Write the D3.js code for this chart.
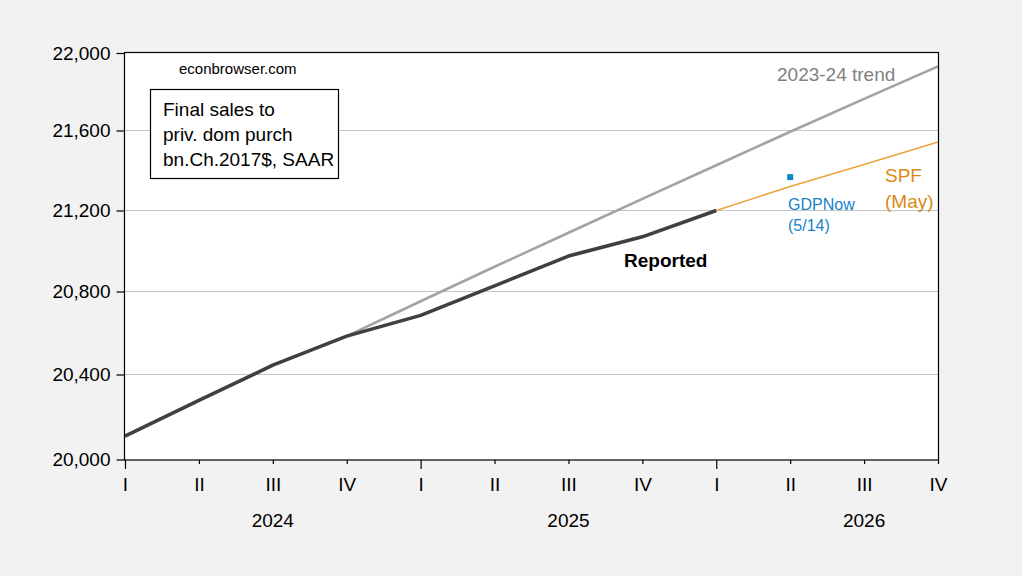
<!DOCTYPE html>
<html>
<head>
<meta charset="utf-8">
<style>
body { margin: 0; background: #f2f2f2; }
text { font-family: "Liberation Sans", Arial, sans-serif; }
</style>
</head>
<body>
<svg id="chart" width="1022" height="576"></svg>
<script src="https://d3js.org/d3.v7.min.js"></script>
<script>
// data (bn. Ch.2017$, SAAR)
var quarters = ["I", "II", "III", "IV", "I", "II", "III", "IV", "I", "II", "III", "IV"];
var years = ["2024", "2025", "2026"];
var reported = [20110, 20278, 20445, 20585, 20685, 20828, 20975, 21070, 21200];
// 2023-24 trend, from 2024Q4 on (index 3)
var trendStart = 3;
var trend = [20585, 20753, 20922, 21090, 21258, 21426, 21594, 21763, 21931];
// SPF (May), from 2026Q1 (index 8)
var spfStart = 8;
var spf = [21200, 21320, 21430, 21542];
var gdpnowIndex = 9;
var gdpnow = 21367;
var yTicks = [20000, 20400, 20800, 21200, 21600, 22000];

var svg = d3.select("#chart");
var plot = {left: 125, right: 938, top: 53, bottom: 459.5};

var x = d3.scaleLinear().domain([0, quarters.length - 1]).range([plot.left, plot.right]);
// tick spacing in the picture is not quite even, so map each gridline
var y = d3.scaleLinear().domain(yTicks).range([459.5, 374.5, 291.5, 210.5, 130.5, 53]);

svg.append("rect")
    .attr("x", plot.left).attr("y", plot.top)
    .attr("width", plot.right - plot.left).attr("height", plot.bottom - plot.top)
    .attr("fill", "white");

// gridlines
svg.append("g").selectAll("line")
    .data(yTicks.slice(1, -1))
    .enter().append("line")
    .attr("x1", plot.left).attr("x2", plot.right)
    .attr("y1", d => y(d)).attr("y2", d => y(d))
    .attr("stroke", "#c4c4c4").attr("stroke-width", 1);

var line = d3.line().x(d => x(d[0])).y(d => y(d[1]));

svg.append("path")
    .datum(trend.map((v, i) => [i + trendStart, v]))
    .attr("d", line).attr("fill", "none")
    .attr("stroke", "#a3a3a3").attr("stroke-width", 2.6);

svg.append("path")
    .datum(spf.map((v, i) => [i + spfStart, v]))
    .attr("d", line).attr("fill", "none")
    .attr("stroke", "#eba43c").attr("stroke-width", 1.6);

svg.append("path")
    .datum(reported.map((v, i) => [i, v]))
    .attr("d", line).attr("fill", "none")
    .attr("stroke", "#404040").attr("stroke-width", 3.6)
    .attr("stroke-linejoin", "round");

svg.append("rect")
    .attr("x", x(gdpnowIndex) - 3).attr("y", y(gdpnow) - 3)
    .attr("width", 6).attr("height", 6)
    .attr("fill", "#0e85c8");

// plot border
svg.append("rect")
    .attr("x", plot.left - 0.5).attr("y", plot.top - 0.5)
    .attr("width", plot.right - plot.left + 1).attr("height", plot.bottom - plot.top + 1)
    .attr("fill", "none").attr("stroke", "black").attr("stroke-width", 1.2);

// y axis
var yAxis = svg.append("g")
    .attr("transform", "translate(" + (plot.left - 0.5) + ",0)")
    .call(d3.axisLeft(y).tickValues(yTicks).tickFormat(d3.format(",")).tickSize(8).tickPadding(6));
yAxis.select(".domain").remove();
yAxis.selectAll("line").attr("stroke", "black").attr("stroke-width", 1.2);
yAxis.selectAll("text").attr("font-size", 19).attr("fill", "black")
    .attr("font-family", "Liberation Sans, Arial, sans-serif");

// x axis: quarters
var xAxis = svg.append("g")
    .attr("transform", "translate(0," + (plot.bottom + 0.5) + ")")
    .call(d3.axisBottom(x).tickValues(d3.range(quarters.length))
          .tickFormat(i => quarters[i]).tickSize(4).tickPadding(14));
xAxis.select(".domain").remove();
xAxis.selectAll("line").attr("stroke", "black").attr("stroke-width", 1.2)
    .attr("y2", i => i % 4 === 0 ? 9 : 4);
xAxis.selectAll("text").attr("font-size", 19).attr("fill", "black")
    .attr("font-family", "Liberation Sans, Arial, sans-serif");

svg.append("g").selectAll("text")
    .data(years)
    .enter().append("text")
    .attr("x", (d, i) => x(i * 4 + 2)).attr("y", 527)
    .attr("text-anchor", "middle").attr("font-size", 19)
    .text(d => d);

// annotations
svg.append("text").attr("x", 179).attr("y", 74).attr("font-size", 15).text("econbrowser.com");

svg.append("rect").attr("x", 150.5).attr("y", 89.5).attr("width", 188).attr("height", 89)
    .attr("fill", "white").attr("stroke", "black").attr("stroke-width", 1.2);
var boxLines = ["Final sales to", "priv. dom purch", "bn.Ch.2017$, SAAR"];
svg.append("g").selectAll("text")
    .data(boxLines)
    .enter().append("text")
    .attr("x", 163).attr("y", (d, i) => 116 + i * 25)
    .attr("font-size", 19).text(d => d);

svg.append("text").attr("x", 777).attr("y", 81).attr("font-size", 19)
    .attr("fill", "#808080").text("2023-24 trend");

svg.append("text").attr("x", 624).attr("y", 267).attr("font-size", 19)
    .attr("font-weight", "bold").text("Reported");

svg.append("text").attr("x", 885).attr("y", 182).attr("font-size", 19)
    .attr("fill", "#d98a14").text("SPF");
svg.append("text").attr("x", 885).attr("y", 208).attr("font-size", 19)
    .attr("fill", "#d98a14").text("(May)");

svg.append("text").attr("x", 788).attr("y", 210).attr("font-size", 16)
    .attr("fill", "#1483c6").text("GDPNow");
svg.append("text").attr("x", 788).attr("y", 231).attr("font-size", 16)
    .attr("fill", "#1483c6").text("(5/14)");
</script>
</body>
</html>
